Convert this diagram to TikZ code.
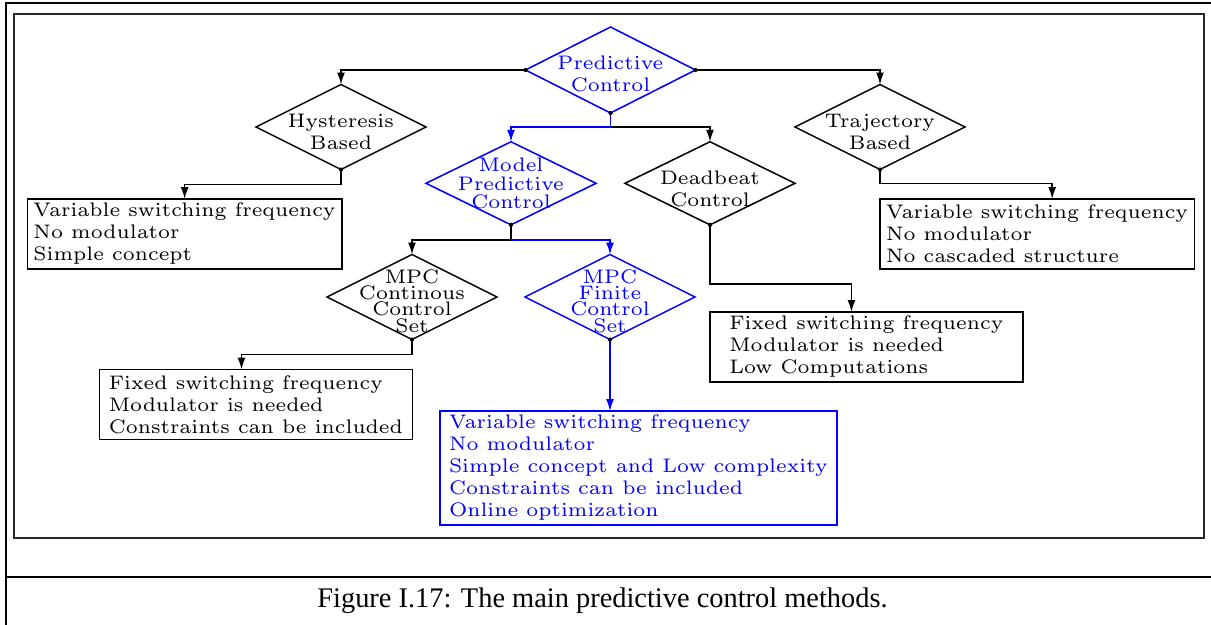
\documentclass[tikz,border=0pt]{standalone}
\usepackage{fontspec}
\newfontfamily\capfont{Liberation Serif}
\usetikzlibrary{shapes.geometric,arrows.meta,calc}
\font\dfont=cmr6 at 14.7pt
\tikzset{
  dia/.style={shape=diamond, draw, line width=1.15pt, minimum width=127.5pt,
    minimum height=63.75pt, inner sep=0pt, outer sep=0pt},
  dlab/.style={inner sep=0pt, align=center},
  two/.style={font={\dfont\baselineskip=16.5pt\relax}},
  three/.style={font={\dfont\baselineskip=13.9pt\relax}},
  four/.style={font={\dfont\baselineskip=12.2pt\relax}},
  infobox/.style={draw, line width=1.15pt, anchor=north west, align=left,
    font={\dfont\baselineskip=16.5pt\relax}, inner xsep=4.5pt, inner ysep=0pt,
    outer sep=0pt, minimum width=234.75pt, minimum height=52.5pt},
  conn/.style={line width=1.15pt, -{Latex[length=9pt,width=6pt]}},
  tail/.style={line width=1.15pt, -{Latex[length=9pt,width=6pt]}},
  hi/.style={blue},
}
\begin{document}
\begin{tikzpicture}[x=0.75pt,y=-0.75pt]
\useasboundingbox (0,0) rectangle (1211,625);

% page frame and caption rule
\draw[line width=1.7pt] (5.8,625) -- (5.8,2.9) -- (1211,2.9);
\draw[line width=1.7pt] (5.8,577) -- (1211,577);
\draw[line width=1.4pt, black!85] (14.3,14.3) rectangle (1204.3,538.3);

% decision nodes
\node[dia, hi] (pc) at (610.5,70) [minimum height=64.5pt]
  {};
\node[dlab, two, hi, yshift=-3pt] at (pc) {Predictive\\Control};
\node[dia] (hyst) at (341,127) {};
\node[dlab, two, yshift=-3.4pt] at (hyst) {Hysteresis\\Based};
\node[dia] (traj) at (880,127) {};
\node[dlab, two, yshift=-3.4pt] at (traj) {Trajectory\\Based};
\node[dia, hi] (mpc) at (511,183.3) [minimum height=62.3pt] {};
\node[dlab, three, hi] at (mpc) {Model\\Predictive\\Control};
\node[dia] (db) at (710,183.3) [minimum height=62.3pt] {};
\node[dlab, two, yshift=-3.75pt] at (db) {Deadbeat\\Control};
\node[dia] (ccs) at (412,297) {};
\node[dlab, four, yshift=-3pt] at (ccs) {MPC\\Continous\\Control\\Set};
\node[dia, hi] (fcs) at (610,297) {};
\node[dlab, four, hi, yshift=-3pt] at (fcs) {MPC\\Finite\\Control\\Set};

% property boxes
\node[infobox] (hbox) at (27.5,199)
  {Variable switching frequency\\No modulator\\Simple concept};
\node[infobox] (tbox) at (880,199)
  {Variable switching frequency\\No modulator\\No cascaded structure};
\node[infobox] (cbox) at (99.5,369.5)
  {Fixed switching frequency\\Modulator is needed\\Constraints can be included};
\node[infobox] (dbox) at (710,312)
  {Fixed switching frequency\\Modulator is needed\\Low Computations};
\node[infobox, hi, minimum width=297.75pt, minimum height=85.5pt] (fbox) at (440,411)
  {Variable switching frequency\\No modulator\\Simple concept and Low complexity\\Constraints can be included\\Online optimization};

% connectors
\draw[conn] (pc.west) -| (hyst.north);
\draw[conn] (pc.east) -| (traj.north);
\draw[conn, hi] (pc.south) -- ++(0,14) coordinate (j1) -| (mpc.north);
\draw[tail] (j1) -| (db.north);
\draw[conn] (mpc.south) -- ++(0,15) coordinate (j2) -| (ccs.north);
\draw[tail, hi] (j2) -| (fcs.north);
\draw[conn] (hyst.south) -- ++(0,15) -| (hbox.north);
\draw[conn] (traj.south) -- ++(0,14) -| ($(tbox.north)+(15,0)$);
\draw[conn] (ccs.south) -- ++(0,15) -| ($(cbox.north)+(-14.5,0)$);
\draw[conn] (db.south) -- ++(0,59) -| ($(dbox.north)+(-15,0)$);
\draw[conn, hi] (fcs.south) -- (fcs.south |- fbox.north);

% junction dots where connectors leave a decision node
\foreach \a in {pc.west, pc.east, pc.south, hyst.south, traj.south,
                mpc.south, db.south, ccs.south, fcs.south}
  \fill (\a) circle (2.1);

% caption
\node[anchor=base, inner sep=0pt, font={\capfont\fontsize{21.3}{24}\selectfont}]
  (cap) at (602.5,607.5) {Figure I.17: The main predictive control methods.};
\end{tikzpicture}
\end{document}
